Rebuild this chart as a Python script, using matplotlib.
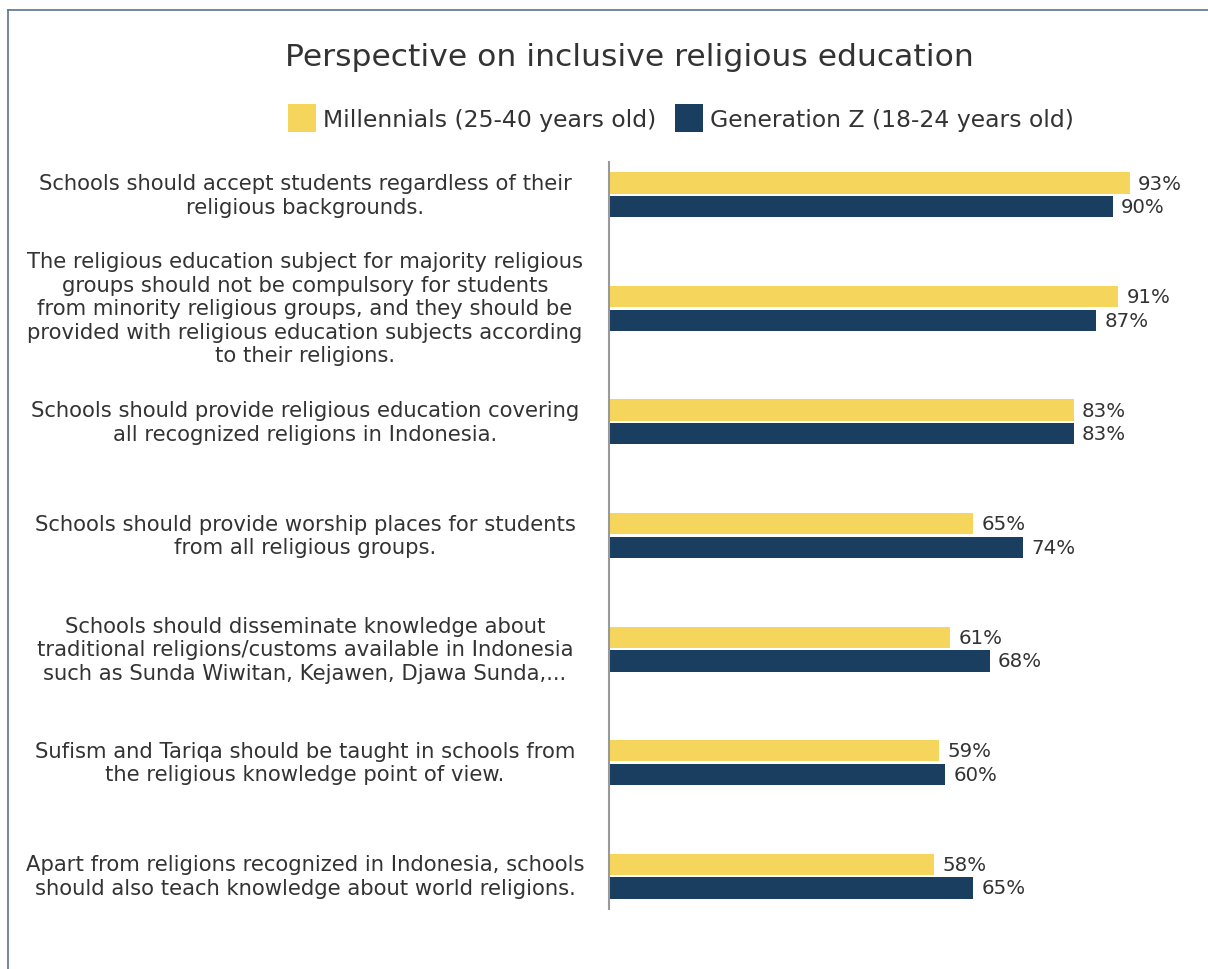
import matplotlib
matplotlib.use("Agg")
from matplotlib import pyplot as plt
from matplotlib.patches import Patch
from matplotlib.lines import Line2D
import numpy as np

statements = [
    "Schools should accept students regardless of their\nreligious backgrounds.",
    "The religious education subject for majority religious\ngroups should not be compulsory for students\n"
    "from minority religious groups, and they should be\nprovided with religious education subjects according\nto their religions.",
    "Schools should provide religious education covering\nall recognized religions in Indonesia.",
    "Schools should provide worship places for students\nfrom all religious groups.",
    "Schools should disseminate knowledge about\ntraditional religions/customs available in Indonesia\n"
    "such as Sunda Wiwitan, Kejawen, Djawa Sunda,...",
    "Sufism and Tariqa should be taught in schools from\nthe religious knowledge point of view.",
    "Apart from religions recognized in Indonesia, schools\nshould also teach knowledge about world religions.",
]
millennials = [93, 91, 83, 65, 61, 59, 58]
gen_z = [90, 87, 83, 74, 68, 60, 65]
series_names = ["Millennials (25-40 years old)", "Generation Z (18-24 years old)"]

YELLOW = "#F5D55B"
NAVY = "#1A3E5F"
TEXT = "#333333"

plt.rcParams["font.family"] = ["DejaVu Sans"]

W, H = 1208, 970
fig = plt.figure(figsize=(W / 100, H / 100), dpi=100)

# plot area in pixel terms
left, right, top, bottom = 609, 1208, 163, 910
ax = fig.add_axes([left / W, 1 - bottom / H, (right - left) / W, (bottom - top) / H])

y = np.arange(len(statements))
bh = 0.186
off = 0.105
b1 = ax.barh(y - off, millennials, height=bh, color=YELLOW)
b2 = ax.barh(y + off, gen_z, height=bh, color=NAVY)

for bars, vals in ((b1, millennials), (b2, gen_z)):
    for bar, v in zip(bars, vals):
        ax.annotate(f"{v}%", (v, bar.get_y() + bar.get_height() / 2),
                    xytext=(6, 0), textcoords="offset points",
                    ha="left", va="center", fontsize=14.2, color=TEXT)

ax.set_xlim(0, 107)
ax.set_ylim(len(statements) - 1 + 0.29, -0.29)
ax.set_xticks([])
ax.set_yticks([])
for s in ("top", "right", "bottom"):
    ax.spines[s].set_visible(False)
ax.spines["left"].set_color("#999999")
ax.spines["left"].set_linewidth(1.5)

# statements, centred in the left margin
trans = matplotlib.transforms.blended_transform_factory(fig.transFigure, ax.transData)
for yi, txt in zip(y, statements):
    ax.text(305 / W, yi, txt, transform=trans, ha="center", va="center",
            fontsize=15.2, color=TEXT, linespacing=1.22)

fig.text(629 / W, 1 - 57 / H, "Perspective on inclusive religious education",
         ha="center", va="center", fontsize=22.6, color=TEXT)

handles = [Patch(facecolor=YELLOW, label=series_names[0]),
           Patch(facecolor=NAVY, label=series_names[1])]
fig.legend(handles=handles, loc="center", bbox_to_anchor=(681 / W, 1 - 119 / H),
           ncol=2, frameon=False, fontsize=16.9, handlelength=1.19, handleheight=1.45,
           handletextpad=0.3, columnspacing=0.8, labelcolor=TEXT)

# outer frame, only the top and left edges fall inside the canvas
fig.add_artist(Line2D([8 / W, 8 / W], [0, 1 - 11 / H], transform=fig.transFigure,
                      color="#5A7391", lw=1.2))
fig.add_artist(Line2D([8 / W, 1], [1 - 11 / H, 1 - 11 / H], transform=fig.transFigure,
                      color="#5A7391", lw=1.2))

fig.savefig("out.png", dpi=100)
